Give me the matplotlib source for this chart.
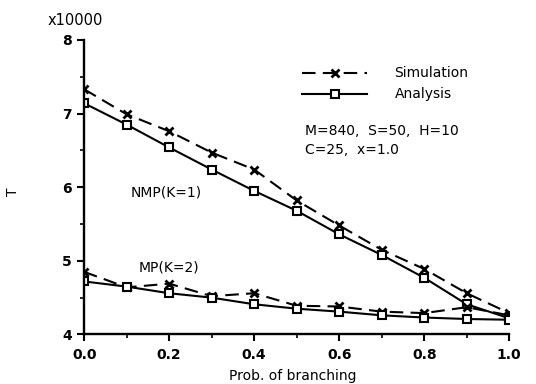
import matplotlib
matplotlib.use("Agg")
import matplotlib.pyplot as plt
from matplotlib.ticker import MultipleLocator

plt.rcParams['font.family'] = ['DejaVu Sans']

x = [0.0, 0.1, 0.2, 0.3, 0.4, 0.5, 0.6, 0.7, 0.8, 0.9, 1.0]
nmp_sim = [7.33, 6.99, 6.76, 6.47, 6.24, 5.82, 5.48, 5.15, 4.89, 4.56, 4.29]
nmp_ana = [7.14, 6.85, 6.54, 6.24, 5.95, 5.68, 5.36, 5.08, 4.77, 4.41, 4.22]
mp_sim = [4.85, 4.64, 4.69, 4.52, 4.56, 4.39, 4.38, 4.31, 4.29, 4.37, 4.26]
mp_ana = [4.72, 4.65, 4.56, 4.50, 4.41, 4.35, 4.31, 4.26, 4.23, 4.21, 4.20]
xticks = [0.0, 0.2, 0.4, 0.6, 0.8, 1.0]
xticklabels = ["0.0", "0.2", "0.4", "0.6", "0.8", "1.0"]
yticks = [4, 5, 6, 7, 8]

fig = plt.figure(figsize=(5.36, 3.84), dpi=100)
ax = fig.add_axes([0.157, 0.129, 0.793, 0.767])

dash = (0, (6.5, 3.5))
sim_kw = dict(color='black', linestyle=dash, linewidth=1.5, marker='x', markersize=6,
              markeredgewidth=2.0)
ana_kw = dict(color='black', linestyle='-', linewidth=1.5, marker='s', markersize=5.5,
              markerfacecolor='white', markeredgewidth=1.5)

ax.plot(x, nmp_sim, label='Simulation', **sim_kw)
ax.plot(x, nmp_ana, label='Analysis', **ana_kw)
ax.plot(x, mp_sim, **sim_kw)
ax.plot(x, mp_ana, **ana_kw)

ax.set_xlim(0, 1.0)
ax.set_ylim(4, 8)
ax.set_xticks(xticks)
ax.set_xticklabels(xticklabels)
ax.set_yticks(yticks)
ax.xaxis.set_minor_locator(MultipleLocator(0.1))
ax.yaxis.set_minor_locator(MultipleLocator(0.5))
ax.tick_params(which='major', direction='out', length=5, width=1.5, labelsize=10)
ax.tick_params(axis='x', which='major', pad=5)
ax.tick_params(axis='y', which='major', pad=4)
ax.tick_params(which='minor', direction='out', length=3, width=1.2)
for s in ['top', 'right']:
    ax.spines[s].set_visible(False)
for s in ['left', 'bottom']:
    ax.spines[s].set_linewidth(1.7)
for lbl in ax.get_xticklabels() + ax.get_yticklabels():
    lbl.set_fontweight('bold')

ax.set_xlabel('Prob. of branching', fontsize=10)
ax.xaxis.set_label_coords(0.49, -0.118)
ax.set_ylabel('T', fontsize=10)
ax.yaxis.set_label_coords(-0.15, 0.483)
ax.text(-0.087, 1.065, 'x10000', transform=ax.transAxes, fontsize=10.5,
        ha='left', va='center')

ax.legend(loc='upper left', bbox_to_anchor=(0.513, 0.91), frameon=False,
          borderaxespad=0, borderpad=0, handlelength=4.7, fontsize=10,
          handletextpad=1.95, labelspacing=0.5)

ax.text(0.52, 0.69, 'M=840,  S=50,  H=10', transform=ax.transAxes, fontsize=10,
        ha='left', va='center')
ax.text(0.52, 0.626, 'C=25,  x=1.0', transform=ax.transAxes, fontsize=10,
        ha='left', va='center')
ax.text(0.11, 0.483, 'NMP(K=1)', transform=ax.transAxes, fontsize=10, ha='left', va='center')
ax.text(0.129, 0.228, 'MP(K=2)', transform=ax.transAxes, fontsize=10, ha='left', va='center')

fig.savefig('out.png', dpi=100)
